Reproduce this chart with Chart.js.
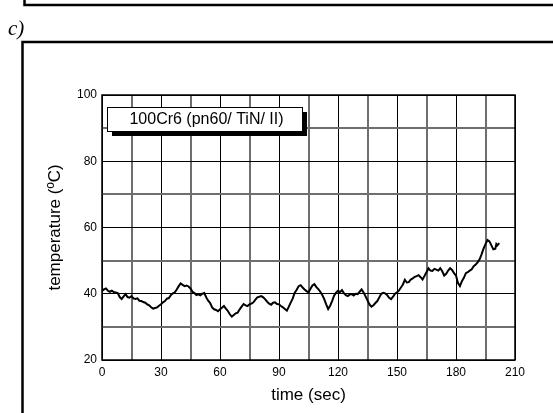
<!DOCTYPE html>
<html>
<head>
<meta charset="utf-8">
<script src="https://cdn.jsdelivr.net/npm/chart.js@4.4.1/dist/chart.umd.min.js"></script>
<style>
  html, body { margin: 0; padding: 0; background: #fff; }
  #wrap { position: relative; width: 553px; height: 413px; overflow: hidden; }
  #lbl { position: absolute; left: 8px; top: 16px; font: italic 21px "Liberation Serif", "Times New Roman", serif; color: #000; }
  canvas { position: absolute; left: 0; top: 0; }
</style>
</head>
<body>
<div id="wrap">
  <canvas id="c" width="553" height="413"></canvas>
  <div id="lbl">c)</div>
</div>
<script>
// time (sec)
const timeSec = [0,1,2,3,4,5,6,7,8,9,10,11,12,13,14,15,16,17,18,19,20,21,22,23,24,25,26,27,28,29,30,31,32,33,34,35,36,37,38,39,40,41,42,43,44,45,46,47,48,49,50,51,52,53,54,55,56,57,58,59,60,61,62,63,64,65,66,67,68,69,70,71,72,73,74,75,76,77,78,79,80,81,82,83,84,85,86,87,88,89,90,91,92,93,94,95,96,97,98,99,100,101,102,103,104,105,106,107,108,109,110,111,112,113,114,115,116,117,118,119,120,121,122,123,124,125,126,127,128,129,130,131,132,133,134,135,136,137,138,139,140,141,142,143,144,145,146,147,148,149,150,151,152,153,154,155,156,157,158,159,160,161,162,163,164,165,166,167,168,169,170,171,172,173,174,175,176,177,178,179,180,181,182,183,184,185,186,187,188,189,190,191,192,193,194,195,196,197,198,199,200,200.5,201,202];
// temperature (°C)
const temperature = [40.8,41.3,41.6,40.9,40.6,40.9,40.5,40.4,40.2,39.0,38.4,39.2,39.9,39.0,38.8,39.3,38.6,38.4,38.6,37.9,37.8,37.5,37.3,36.8,36.5,35.9,35.5,35.7,35.9,36.4,36.8,37.4,37.8,38.5,38.7,39.6,40.1,40.4,41.3,42.3,43.1,42.7,42.3,42.5,42.2,41.6,40.6,40.2,39.6,39.8,39.5,40.0,40.2,38.9,37.9,37.2,35.9,35.3,35.1,34.7,35.3,35.8,36.3,35.5,34.8,33.8,33.1,33.6,34.1,34.3,35.3,36.1,36.9,36.5,36.3,36.8,37.0,37.4,38.2,38.9,39.1,39.3,38.9,38.3,37.6,37.0,36.7,37.3,37.4,36.9,36.8,36.3,35.9,35.4,34.9,36.1,37.4,38.6,40.3,41.2,42.3,42.6,41.9,41.3,40.8,40.4,41.5,42.5,42.9,42.0,41.4,40.6,39.6,38.4,36.8,35.4,36.4,37.8,39.4,40.3,40.9,40.5,41.1,40.2,39.6,39.3,39.8,39.9,39.5,40.0,39.9,40.6,41.3,40.4,39.2,38.0,36.8,36.1,36.5,37.2,37.8,38.9,40.0,40.3,40.1,39.6,38.8,38.4,39.1,40.0,40.4,41.0,41.9,42.8,44.2,43.4,43.5,44.3,44.6,45.1,45.3,45.6,45.0,44.3,45.4,46.5,47.7,47.0,46.9,47.5,47.3,47.0,47.7,46.8,45.5,46.0,47.0,47.7,47.2,46.2,45.5,43.2,42.3,43.8,44.8,46.2,46.5,47.0,47.4,48.3,48.8,49.5,50.4,51.9,53.6,55.0,56.2,55.8,54.6,53.4,53.6,55.0,54.6,55.3];
const xTicks = [0,30,60,90,120,150,180,210];
const yTicks = [20,40,60,80,100];
const legendText = "100Cr6 (pn60/ TiN/ II)";
const xTitle = "time (sec)";
const yTitle = "temperature (ºC)";

const points = timeSec.map((t, i) => ({x: t, y: temperature[i]}));

const decor = {
  id: 'decor',
  afterDraw(chart) {
    const ctx = chart.ctx;
    const a = chart.chartArea;
    ctx.save();
    // plot border
    ctx.strokeStyle = '#000';
    ctx.lineWidth = 1.5;
    ctx.strokeRect(a.left, a.top, a.right - a.left, a.bottom - a.top);
    // legend box with shadow
    const bx = a.left + 5, by = a.top + 12, bw = 195, bh = 24;
    ctx.fillStyle = '#000';
    ctx.fillRect(bx + 5, by + 5, bw, bh);
    ctx.fillStyle = '#fff';
    ctx.fillRect(bx, by, bw, bh);
    ctx.lineWidth = 1;
    ctx.strokeRect(bx + 0.5, by + 0.5, bw, bh);
    ctx.fillStyle = '#000';
    ctx.font = '16px "Liberation Sans", Arial, sans-serif';
    ctx.textAlign = 'center';
    ctx.textBaseline = 'middle';
    ctx.fillText(legendText, bx + bw / 2 + 2, by + bh / 2 + 1);
    // page frames
    ctx.lineWidth = 2.5;
    ctx.beginPath();
    ctx.moveTo(24.5, 0); ctx.lineTo(24.5, 5); ctx.lineTo(553, 5);
    ctx.moveTo(22.5, 413); ctx.lineTo(22.5, 42); ctx.lineTo(553, 42);
    ctx.stroke();
    ctx.restore();
  }
};

new Chart(document.getElementById('c'), {
  type: 'line',
  data: {
    datasets: [{
      data: points,
      borderColor: '#000',
      borderWidth: 2,
      pointRadius: 0,
      tension: 0,
      fill: false
    }]
  },
  options: {
    responsive: false,
    animation: false,
    devicePixelRatio: 1,
    layout: { padding: { left: 0, top: 95, right: 38, bottom: 0 } },
    plugins: { legend: { display: false }, tooltip: { enabled: false } },
    scales: {
      x: {
        type: 'linear', min: 0, max: 210,
        afterFit(s) { s.height = 53; },
        afterBuildTicks(s) { const t = []; for (let v = 0; v <= 210; v += 15) t.push({value: v}); s.ticks = t; },
        ticks: {
          autoSkip: false, maxRotation: 0, padding: 5, color: '#000',
          font: { family: '"Liberation Sans", Arial, sans-serif', size: 12 },
          callback: v => xTicks.includes(v) ? String(v) : ''
        },
        grid: {
          drawTicks: false,
          color: c => (c.tick && c.tick.value % 30 === 0) ? '#000' : '#6e6e6e',
          lineWidth: c => (c.tick && c.tick.value % 30 === 0) ? 1 : 2
        },
        border: { display: false },
        title: { display: true, text: xTitle, color: '#000', padding: { top: 0, bottom: 7 },
          font: { family: '"Liberation Sans", Arial, sans-serif', size: 17 } }
      },
      y: {
        type: 'linear', min: 20, max: 100,
        afterFit(s) { s.width = 102; },
        afterBuildTicks(s) { const t = []; for (let v = 20; v <= 100; v += 10) t.push({value: v}); s.ticks = t; },
        ticks: {
          autoSkip: false, padding: 5, color: '#000',
          font: { family: '"Liberation Sans", Arial, sans-serif', size: 12 },
          callback: v => yTicks.includes(v) ? String(v) : ''
        },
        grid: {
          drawTicks: false,
          color: c => (c.tick && c.tick.value % 20 === 0) ? '#000' : '#6e6e6e',
          lineWidth: c => (c.tick && c.tick.value % 20 === 0) ? 1 : 2
        },
        border: { display: false },
        title: { display: true, text: yTitle, color: '#000', padding: { top: 45, bottom: 0 },
          font: { family: '"Liberation Sans", Arial, sans-serif', size: 17 } }
      }
    }
  },
  plugins: [decor]
});
</script>
</body>
</html>
